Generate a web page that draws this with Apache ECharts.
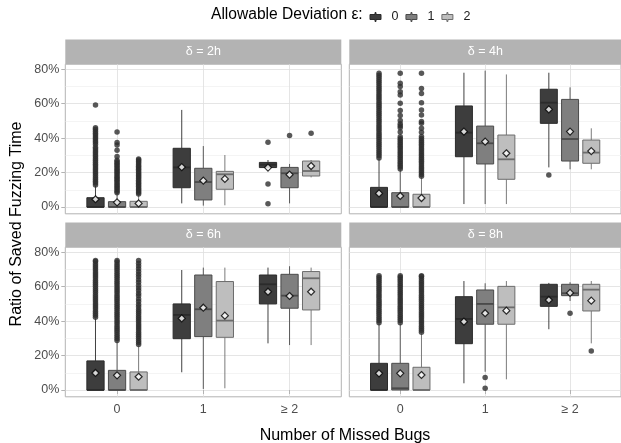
<!DOCTYPE html>
<html><head><meta charset="utf-8">
<script src="https://cdn.jsdelivr.net/npm/echarts@6/dist/echarts.min.js"></script>
<style>html,body{margin:0;padding:0;background:#fff}#c{width:621px;height:443px}</style>
</head><body><div id="c"></div>
<script>
// ---------- data (values in %) ----------
const categories = ['0', '1', '\u2265 2'];
const epsilons = ['0', '1', '2'];
const panelLabels = ['\u03b4 = 2h', '\u03b4 = 4h', '\u03b4 = 6h', '\u03b4 = 8h'];
const yTicks = [0, 20, 40, 60, 80];
const yMinorTicks = [10, 30, 50, 70];

// box stats [category][epsilon] = [lower whisker, q1, median, q3, upper whisker]
const box2h = [
  [[0, 0, 0, 5.4, 12.2], [0, 0, 0, 3.1, 7.7], [0, 0, 0, 3.3, 7.0]],
  [[2.1, 11.2, 23.0, 34.1, 56.4], [0.8, 4.1, 14.5, 22.5, 35.4], [1.0, 10.3, 19.0, 20.7, 30.2]],
  [[22.3, 22.9, 24.6, 25.9, 27.3], [2.1, 11.2, 19.6, 23.0, 25.0], [17.2, 18.0, 20.9, 26.7, 27.3]]
];
const box4h = [
  [[0, 0, 0, 11.4, 27.9], [0, 0, 0, 8.3, 21.5], [0, 0, 0, 7.4, 17.2]],
  [[1.7, 29.2, 43.2, 58.7, 78.0], [1.7, 25.0, 37.0, 47.0, 79.2], [1.7, 16.1, 27.7, 41.8, 77.0]],
  [[23.0, 48.6, 60.6, 68.4, 78.0], [21.9, 26.7, 39.5, 62.5, 69.5], [21.9, 25.4, 31.6, 38.9, 45.7]]
];
const box6h = [
  [[0, 0, 0, 16.9, 41.6], [0, 0, 0, 11.4, 28.1], [0, 0, 0, 10.5, 25.8]],
  [[10.3, 29.8, 43.6, 50.0, 69.7], [0.6, 31.0, 46.9, 66.8, 71.1], [1.0, 30.6, 40.3, 63.0, 71.1]],
  [[27.1, 50.0, 61.4, 66.8, 71.1], [26.1, 47.5, 54.8, 67.2, 71.9], [26.1, 46.5, 64.9, 68.8, 71.1]]
];
const box8h = [
  [[0, 0, 0, 15.5, 38.4], [0, 0, 1.0, 15.5, 38.4], [0, 0, 0, 13.2, 32.9]],
  [[3.9, 26.9, 41.3, 54.2, 63.3], [10.6, 38.2, 50.0, 58.1, 62.0], [6.2, 38.2, 48.0, 60.2, 63.3]],
  [[35.3, 48.6, 54.2, 61.4, 62.2], [51.7, 54.8, 56.2, 61.4, 62.6], [27.1, 45.9, 58.3, 61.4, 63.3]]
];

// means [category][epsilon]
const mean2h = [[4.5, 2.7, 2.1], [23.2, 15.3, 16.3], [22.9, 18.8, 23.8]];
const mean4h = [[7.9, 6.4, 5.2], [43.8, 38.0, 31.2], [56.7, 43.8, 32.5]];
const mean6h = [[9.9, 8.5, 7.7], [41.6, 47.8, 43.2], [57.1, 54.6, 57.1]];
const mean8h = [[9.7, 9.7, 8.7], [39.7, 44.6, 46.1], [52.3, 56.4, 51.9]];

// outliers [category][epsilon] = list
const out2h = [
  [
    [12.8, 13.9, 15.0, 16.1, 17.2, 18.3, 19.4, 20.5, 21.6, 22.7, 23.8, 24.9, 26.0, 27.1, 28.2, 29.3, 30.4, 31.5, 32.6, 33.7, 34.7, 36.3, 37.4, 38.5, 39.6, 40.7, 41.8, 42.9, 44.0, 45.1, 46.0, 59.3],
    [8.3, 9.2, 10.1, 11.0, 11.9, 12.8, 13.7, 14.6, 15.5, 16.4, 17.3, 18.2, 19.1, 20.0, 20.9, 21.8, 22.7, 23.6, 24.5, 25.4, 26.3, 27.2, 29.4, 32.9, 36.0, 37.4, 43.6],
    [7.5, 8.4, 9.3, 10.2, 11.1, 12.0, 12.9, 13.8, 14.7, 15.6, 16.5, 17.4, 18.3, 19.2, 20.1, 21.0, 21.9, 22.8, 23.7, 24.6, 25.5, 26.4, 27.3, 27.9]
  ],
  [[], [], []],
  [[37.6, 13.4, 1.9], [41.6], [42.8]]
];
const out4h = [
  [
    [28.5, 29.7, 30.9, 32.1, 33.3, 34.5, 35.7, 36.9, 38.1, 39.3, 40.5, 41.7, 42.9, 44.1, 45.3, 46.5, 47.7, 48.9, 50.1, 51.3, 52.5, 53.7, 54.9, 56.1, 57.3, 58.5, 59.7, 60.9, 62.1, 63.3, 64.5, 65.7, 66.9, 68.1, 69.3, 70.5, 71.7, 72.9, 74.1, 75.3, 76.5, 77.7],
    [22.1, 23.2, 24.3, 25.4, 26.5, 27.6, 28.7, 29.8, 30.9, 32.0, 33.1, 34.2, 35.3, 36.4, 37.5, 38.6, 39.7, 40.8, 43.6, 46.1, 47.2, 48.4, 50.3, 53.2, 56.1, 60.3, 65.1, 67.0, 70.0, 71.9, 77.7],
    [17.8, 18.9, 20.0, 21.1, 22.2, 23.3, 24.4, 25.5, 26.6, 27.7, 28.8, 29.9, 31.0, 32.1, 33.2, 34.3, 35.4, 36.5, 37.6, 38.7, 39.8, 40.9, 43.4, 45.8, 48.6, 49.6, 53.4, 56.4, 60.6, 66.0, 68.9, 77.7]
  ],
  [[], [], []],
  [[18.6], [], []]
];
const out6h = [
  [
    [42.2, 43.4, 44.6, 45.8, 47.0, 48.2, 49.4, 50.6, 51.8, 53.0, 54.2, 55.4, 56.6, 57.8, 59.0, 60.2, 61.4, 62.6, 63.8, 65.0, 66.2, 67.4, 68.6, 69.8, 71.0, 72.2, 73.4, 74.6, 75.2],
    [28.7, 29.9, 31.1, 32.3, 33.5, 34.7, 35.9, 37.1, 38.3, 39.5, 40.7, 41.9, 43.1, 44.3, 45.5, 46.7, 47.9, 49.1, 50.3, 51.5, 52.7, 53.9, 55.1, 56.3, 57.5, 58.7, 59.9, 61.1, 62.3, 63.5, 64.7, 65.9, 67.1, 68.3, 69.5, 70.7, 71.9, 73.1, 74.3, 75.2],
    [26.4, 27.6, 28.8, 30.0, 31.2, 32.4, 33.6, 34.8, 36.0, 37.2, 38.4, 39.6, 40.8, 42.0, 43.2, 44.4, 45.6, 46.8, 48.3, 49.6, 51.4, 52.9, 54.7, 56.0, 57.8, 59.3, 60.9, 62.6, 64.0, 65.8, 67.2, 68.9, 70.5, 72.1, 73.6, 75.2]
  ],
  [[], [], []],
  [[], [], []]
];
const out8h = [
  [
    [39.0, 40.2, 41.4, 42.6, 43.8, 45.0, 46.2, 47.4, 48.6, 49.8, 51.0, 52.2, 53.4, 54.6, 55.8, 57.0, 58.2, 59.4, 60.6, 61.8, 63.0, 64.2, 65.4, 66.4],
    [39.1, 40.3, 41.5, 42.7, 43.9, 45.1, 46.3, 47.5, 48.7, 49.9, 51.1, 52.3, 53.5, 54.7, 55.9, 57.1, 58.3, 59.5, 60.7, 61.9, 63.1, 64.3, 65.5, 66.4],
    [33.5, 34.7, 35.9, 37.1, 38.3, 39.5, 40.7, 41.9, 43.1, 44.3, 45.5, 46.7, 47.9, 49.1, 50.3, 51.5, 52.7, 53.9, 55.1, 56.3, 57.5, 58.7, 59.9, 61.1, 62.3, 63.5, 64.7, 65.9, 66.4]
  ],
  [[], [7.2, 1.0], []],
  [[], [44.6], [22.7]]
];

// ---------- styling / layout ----------
const FONT = 'Liberation Sans, Arial, Helvetica, sans-serif';
const fills = ['#3d3d3d', '#7f7f7f', '#bebebe'];
const strokes = ['#2b2b2b', '#4a4a4a', '#6c6c6c'];
const DODGE = [-0.25, 0, 0.25];
const BOX_W = 0.2;
const Y_MIN = -3.95, Y_MAX = 82.95;

const boxes = [box2h, box4h, box6h, box8h];
const means = [mean2h, mean4h, mean6h, mean8h];
const outs = [out2h, out4h, out6h, out8h];

const colLeft = [65.3, 349.3];
const colWidth = 276;
const rowTop = [64.2, 247.2];
const rowHeight = 149.6;
const stripH = 24.7;

const grids = [], xAxes = [], yAxes = [], series = [], graphics = [];

for (let p = 0; p < 4; p++) {
  const col = p % 2, row = Math.floor(p / 2);
  grids.push({
    left: colLeft[col], top: rowTop[row], width: colWidth, height: rowHeight,
    show: true, backgroundColor: '#fff', borderColor: '#b3b3b3', borderWidth: 1
  });
  xAxes.push({
    gridIndex: p, type: 'value', min: 0.4, max: 3.6,
    axisLine: { show: false },
    axisTick: { show: row === 1, customValues: [1, 2, 3], length: 4, lineStyle: { color: '#b3b3b3' } },
    axisLabel: {
      show: row === 1, customValues: [1, 2, 3], margin: 6,
      formatter: v => categories[Math.round(v) - 1],
      color: '#4d4d4d', fontSize: 12.5, fontFamily: FONT
    },
    splitLine: { show: true, lineStyle: { color: '#dedede', width: 0.8 } }
  });
  yAxes.push({
    gridIndex: p, type: 'value', min: Y_MIN, max: Y_MAX, position: 'left',
    axisLine: { show: false },
    axisTick: { show: col === 0, customValues: yTicks, length: 4, lineStyle: { color: '#b3b3b3' } },
    axisLabel: {
      show: col === 0, customValues: yTicks, formatter: '{value}%', margin: 6,
      color: '#4d4d4d', fontSize: 12.5, fontFamily: FONT
    },
    splitLine: { show: true, lineStyle: { color: '#dedede', width: 0.8 } }
  });
  yAxes.push({
    gridIndex: p, type: 'value', min: Y_MIN, max: Y_MAX, position: 'left',
    axisLine: { show: false },
    axisTick: { show: false, customValues: yMinorTicks },
    axisLabel: { show: false, customValues: yMinorTicks },
    splitLine: { show: true, lineStyle: { color: '#ececec', width: 0.6 } }
  });

  // strip
  graphics.push({
    type: 'rect', silent: true,
    shape: { x: colLeft[col], y: rowTop[row] - stripH, width: colWidth, height: stripH },
    style: { fill: '#b3b3b3' }
  });
  graphics.push({
    type: 'text', silent: true,
    x: colLeft[col] + colWidth / 2 - (col === 1 ? 2 : 0), y: rowTop[row] - stripH / 2,
    style: { text: panelLabels[p], fill: '#ffffff', font: '12.5px ' + FONT, align: 'center', verticalAlign: 'middle' }
  });

  for (let e = 0; e < 3; e++) {
    const boxData = categories.map((c, ci) => [ci + 1 + DODGE[e]].concat(boxes[p][ci][e]));
    series.push({
      type: 'custom', name: epsilons[e], xAxisIndex: p, yAxisIndex: 2 * p, z: 2,
      itemStyle: { color: fills[e], borderColor: strokes[e] },
      encode: { x: 0, y: [1, 2, 3, 4, 5] },
      data: boxData,
      renderItem: (params, api) => {
        const x = api.value(0);
        const lo = api.coord([x, api.value(1)]);
        const q1 = api.coord([x, api.value(2)]);
        const md = api.coord([x, api.value(3)]);
        const q3 = api.coord([x, api.value(4)]);
        const hi = api.coord([x, api.value(5)]);
        const xl = api.coord([x - BOX_W / 2, 0])[0];
        const xr = api.coord([x + BOX_W / 2, 0])[0];
        const cx = md[0];
        const st = strokes[e];
        return {
          type: 'group', children: [
            { type: 'line', shape: { x1: cx, y1: hi[1], x2: cx, y2: q3[1] }, style: { stroke: st, lineWidth: 0.9 } },
            { type: 'line', shape: { x1: cx, y1: q1[1], x2: cx, y2: lo[1] }, style: { stroke: st, lineWidth: 0.9 } },
            { type: 'rect', shape: { x: xl, y: q3[1], width: xr - xl, height: q1[1] - q3[1] }, style: { fill: fills[e], stroke: st, lineWidth: 1 } },
            { type: 'line', shape: { x1: xl, y1: md[1], x2: xr, y2: md[1] }, style: { stroke: st, lineWidth: 1.8 } }
          ]
        };
      }
    });
    const outData = [];
    categories.forEach((c, ci) => outs[p][ci][e].forEach(v => outData.push([ci + 1 + DODGE[e], v])));
    series.push({
      type: 'scatter', name: 'outlier', xAxisIndex: p, yAxisIndex: 2 * p, z: 3,
      symbol: 'circle', symbolSize: 5.5, silent: true,
      itemStyle: { color: '#2e2e2e' },
      data: outData
    });
    series.push({
      type: 'scatter', name: 'mean', xAxisIndex: p, yAxisIndex: 2 * p, z: 4,
      symbol: 'diamond', symbolSize: 7, silent: true,
      itemStyle: { color: '#ffffff', borderColor: '#000000', borderWidth: 1.2 },
      data: categories.map((c, ci) => [ci + 1 + DODGE[e], means[p][ci][e]])
    });
  }
}

// titles
graphics.push({
  type: 'text', silent: true, x: 17, y: 224, rotation: Math.PI / 2,
  style: { text: 'Ratio of Saved Fuzzing Time', fill: '#000', font: '16px ' + FONT, align: 'center', verticalAlign: 'middle' }
});
graphics.push({
  type: 'text', silent: true, x: 345, y: 436,
  style: { text: 'Number of Missed Bugs', fill: '#000', font: '16px ' + FONT, align: 'center', verticalAlign: 'middle' }
});
graphics.push({
  type: 'text', silent: true, x: 211, y: 15,
  style: { text: 'Allowable Deviation \u03b5:', fill: '#000', font: '15.6px ' + FONT, align: 'left', verticalAlign: 'middle' }
});

const iconPath = 'path://M5,0L6,0L6,2L11,2L11,7L6,7L6,9L5,9L5,7L0,7L0,2L5,2Z';

const chart = echarts.init(document.getElementById('c'), null, { renderer: 'canvas' });
chart.setOption({
  animation: false,
  backgroundColor: '#ffffff',
  grid: grids,
  xAxis: xAxes,
  yAxis: yAxes,
  legend: {
    left: 369.5, top: 10.5, padding: 0, orient: 'horizontal',
    itemWidth: 22, itemHeight: 9, itemGap: 7,
    textStyle: { fontSize: 12.5, color: '#1a1a1a', fontFamily: FONT },
    selectedMode: false,
    data: epsilons.map((e, i) => ({
      name: e, icon: iconPath,
      itemStyle: { color: fills[i], borderColor: strokes[i], borderWidth: 1 }
    }))
  },
  graphic: graphics,
  series: series
});
</script>
</body></html>
